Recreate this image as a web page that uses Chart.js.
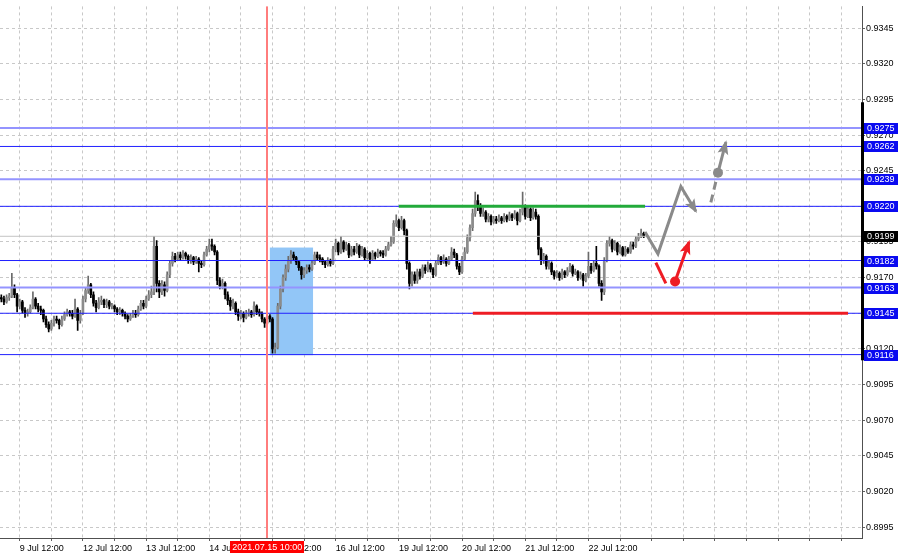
<!DOCTYPE html>
<html>
<head>
<meta charset="utf-8">
<script src="https://cdn.jsdelivr.net/npm/chart.js@4.4.0/dist/chart.umd.min.js"></script>
<style>
    html, body { margin: 0; padding: 0; background: #fff; }
    #wrap { width: 900px; height: 556px; }
</style>
</head>
<body>
<div id="wrap"><canvas id="chart" width="900" height="556"></canvas></div>
<script>
// ---- data (prices in pips, 0.0001 units) ----
const firstOpenPips = 9156;
const closePips = [
    9155,9153,9156,9157,9163,9158,9150,9153,9147,9145,
    9146,9149,9155,9150,9148,9147,9141,9137,9134,9138,
    9141,9140,9137,9141,9144,9146,9145,9143,9148,9140,
    9145,9155,9161,9165,9158,9152,9149,9153,9154,9151,
    9153,9150,9150,9148,9146,9147,9145,9143,9141,9143,
    9145,9144,9148,9152,9150,9155,9158,9160,9192,9166,
    9160,9165,9161,9172,9180,9185,9183,9186,9184,9187,
    9185,9182,9184,9181,9183,9180,9179,9186,9190,9193,
    9192,9188,9168,9164,9166,9158,9154,9150,9152,9146,
    9143,9145,9142,9145,9146,9144,9150,9146,9145,9141,
    9138,9143,9141,9120,9121,9150,9162,9170,9176,9182,
    9186,9184,9181,9177,9172,9175,9177,9176,9180,9186,
    9184,9183,9181,9179,9182,9180,9190,9194,9188,9195,
    9190,9193,9186,9190,9188,9192,9186,9190,9184,9187,
    9183,9187,9185,9188,9187,9186,9190,9193,9195,9208,
    9210,9205,9210,9203,9180,9166,9172,9168,9174,9171,
    9177,9175,9179,9176,9172,9180,9184,9181,9183,9180,
    9183,9188,9186,9178,9174,9183,9188,9198,9205,9215,
    9224,9220,9215,9216,9211,9213,9209,9211,9210,9212,
    9210,9213,9211,9214,9212,9215,9210,9216,9220,9213,
    9218,9212,9216,9213,9190,9182,9185,9178,9180,9174,
    9171,9173,9170,9174,9172,9175,9178,9173,9174,9170,
    9172,9168,9171,9178,9175,9180,9178,9166,9160,9182,
    9194,9196,9190,9194,9188,9191,9186,9190,9188,9193,
    9192,9197,9199,9201,9199
];
const highPips = [
    9158,9157,9158,9159,9173,9165,9159,9155,9154,9149,
    9148,9151,9160,9156,9152,9150,9148,9143,9139,9140,
    9143,9143,9141,9143,9146,9148,9147,9147,9155,9149,
    9147,9157,9163,9171,9166,9160,9154,9156,9157,9155,
    9155,9154,9152,9151,9149,9149,9148,9146,9144,9145,
    9147,9147,9150,9154,9154,9157,9161,9164,9199,9196,
    9168,9168,9167,9174,9182,9188,9187,9188,9188,9189,
    9188,9186,9186,9185,9185,9184,9182,9188,9192,9197,
    9197,9193,9189,9170,9169,9167,9160,9156,9155,9153,
    9148,9147,9146,9147,9148,9147,9153,9151,9148,9146,
    9142,9145,9144,9142,9124,9152,9164,9172,9179,9185,
    9189,9188,9185,9182,9178,9177,9179,9179,9182,9188,
    9188,9186,9184,9182,9184,9183,9192,9197,9195,9199,
    9196,9195,9194,9192,9192,9194,9193,9192,9191,9189,
    9188,9189,9188,9190,9189,9189,9192,9195,9199,9210,
    9214,9211,9213,9211,9204,9181,9174,9174,9176,9176,
    9179,9179,9181,9180,9177,9182,9186,9185,9186,9184,
    9185,9191,9190,9187,9180,9185,9191,9200,9207,9218,
    9230,9228,9222,9219,9217,9215,9214,9213,9213,9214,
    9213,9215,9214,9216,9215,9217,9216,9218,9230,9221,
    9220,9219,9219,9218,9214,9191,9187,9186,9182,9181,
    9175,9175,9174,9176,9175,9177,9180,9179,9176,9175,
    9174,9173,9173,9188,9180,9182,9192,9179,9168,9184,
    9196,9199,9197,9196,9195,9193,9192,9192,9191,9195,
    9195,9199,9201,9204,9202
];
const lowPips = [
    9153,9151,9152,9154,9156,9156,9146,9148,9145,9142,
    9143,9145,9148,9148,9146,9144,9139,9135,9132,9133,
    9136,9138,9134,9136,9140,9143,9143,9141,9142,9133,
    9138,9144,9153,9159,9156,9150,9146,9148,9151,9149,
    9149,9148,9148,9146,9144,9144,9143,9141,9139,9140,
    9142,9142,9143,9147,9148,9149,9154,9156,9158,9160,
    9156,9158,9157,9160,9170,9178,9181,9182,9182,9183,
    9183,9180,9180,9179,9180,9174,9177,9178,9185,9188,
    9189,9186,9165,9162,9162,9155,9151,9147,9148,9144,
    9140,9141,9139,9141,9143,9142,9143,9144,9143,9139,
    9135,9137,9139,9117,9117,9120,9148,9160,9168,9174,
    9180,9182,9179,9175,9169,9170,9173,9174,9175,9179,
    9182,9181,9179,9177,9178,9178,9179,9188,9186,9187,
    9188,9189,9184,9185,9186,9187,9184,9185,9182,9183,
    9180,9182,9183,9184,9185,9184,9185,9189,9192,9194,
    9206,9203,9204,9200,9176,9162,9164,9166,9166,9169,
    9170,9173,9174,9174,9170,9171,9179,9179,9180,9178,
    9179,9182,9184,9176,9172,9173,9182,9187,9196,9203,
    9213,9217,9213,9213,9209,9209,9207,9208,9208,9209,
    9208,9209,9209,9210,9210,9211,9207,9209,9214,9211,
    9212,9210,9211,9211,9186,9179,9180,9176,9176,9172,
    9169,9170,9168,9169,9170,9171,9174,9171,9172,9168,
    9169,9164,9167,9170,9173,9174,9176,9164,9154,9158,
    9181,9192,9188,9189,9186,9187,9185,9185,9187,9187,
    9190,9191,9196,9198,9198
];

// time axis (one bar per hour, bar 7 = 9 Jul 12:00)
const dayLabels = ['9 Jul 12:00','12 Jul 12:00','13 Jul 12:00','14 Jul 12:00','15 Jul 12:00',
                   '16 Jul 12:00','19 Jul 12:00','20 Jul 12:00','21 Jul 12:00','22 Jul 12:00'];
const dayLabelBars = [7, 31, 55, 79, 103, 127, 151, 175, 199, 223];
const markerBar = 101;
const markerText = '2021.07.15 10:00';

// price axis
const priceTicks = [0.8995,0.9020,0.9045,0.9070,0.9095,0.9120,0.9145,0.9170,0.9195,0.9220,0.9245,0.9270,0.9295,0.9320,0.9345];
const levelPrices = [0.9275, 0.9262, 0.9239, 0.9220, 0.9182, 0.9163, 0.9145, 0.9116];
const bidPrice = 0.9199;

// drawn objects
const zoneBars = [102, 118.4];
const zonePrices = [0.91911, 0.91156];
const greenBars = [151, 244.5];
const greenPrice = 0.9220;
const redBars = [179.1, 321.6];
const redPrice = 0.9145;
const grayPathBars = [244.5, 249.4, 258.1, 263.8];
const grayPathPrices = [0.9202, 0.91867, 0.92339, 0.92165];
const grayDashBars = [269.5, 271.4];
const grayDashPrices = [0.92228, 0.92373];
const grayUpBars = [272.2, 275.2];
const grayUpPrices = [0.92436, 0.9265];
const redDownBars = [248.6, 252.4];
const redDownPrices = [0.91805, 0.91659];
const redUpBars = [255.9, 261.2];
const redUpPrices = [0.91673, 0.9195];
const axisRangePrices = [0.9293, 0.9112];

// ---- build ----
const X_MIN = -0.5, X_MAX = 326.9;
const Y_MIN = 0.898736, Y_MAX = 0.936025;
const FONT = "'Liberation Sans', Arial, sans-serif";

const p = v => v / 10000;
const opens = closePips.map((c, i) => i === 0 ? firstOpenPips : closePips[i - 1]);
const bull = closePips.map((c, i) => c >= opens[i]);

const wickData = closePips.map((c, i) => ({x: i, y: [p(lowPips[i]), p(highPips[i])]}));
const bodyData = closePips.map((c, i) => ({x: i, y: [p(opens[i]), p(c)]}));

const gridBars = [];
for (let b = 7; b <= X_MAX; b += 12) gridBars.push(b);

function pts(xs, ys) { return xs.map((x, i) => ({x, y: ys[i]})); }

const lightLevels = [0, 2, 5];
const levelSets = levelPrices.map((lv, i) => ({
    type: 'line',
    data: [{x: X_MIN, y: lv}, {x: X_MAX, y: lv}],
    borderColor: lightLevels.includes(i) ? '#9494ff' : '#2020ff',
    borderWidth: lightLevels.includes(i) ? 2 : 1,
    pointRadius: 0,
    order: 3
}));

const GRAY = '#8a8a8a', RED = '#ee1c24';

const datasets = [
    {type: 'line', data: pts(grayPathBars, grayPathPrices), borderColor: GRAY, borderWidth: 3, pointRadius: 0, arrowHead: true, order: 0},
    {type: 'line', data: pts(grayDashBars, grayDashPrices), borderColor: GRAY, borderWidth: 3, borderDash: [8, 5], pointRadius: 0, order: 0},
    {type: 'line', data: pts(grayUpBars, grayUpPrices), borderColor: GRAY, borderWidth: 3, pointRadius: [5, 0], pointBackgroundColor: GRAY, pointBorderWidth: 0, arrowHead: true, order: 0},
    {type: 'line', data: pts(redDownBars, redDownPrices), borderColor: RED, borderWidth: 3, pointRadius: 0, order: 0},
    {type: 'line', data: pts(redUpBars, redUpPrices), borderColor: RED, borderWidth: 3, pointRadius: [5, 0], pointBackgroundColor: RED, pointBorderWidth: 0, arrowHead: true, order: 0},
    {type: 'line', data: pts(greenBars, [greenPrice, greenPrice]), borderColor: '#22aa3a', borderWidth: 3, pointRadius: 0, order: 1},
    {type: 'line', data: pts(redBars, [redPrice, redPrice]), borderColor: RED, borderWidth: 3, pointRadius: 0, order: 1},
    ...levelSets,
    {type: 'line', data: [{x: X_MIN, y: bidPrice}, {x: X_MAX, y: bidPrice}], borderColor: '#c4c4c4', borderWidth: 1, pointRadius: 0, order: 4},
    {type: 'bar', data: bodyData, grouped: false, barThickness: 2, minBarLength: 1,
        backgroundColor: bull.map(b => b ? '#8c8c8c' : '#000000'), order: 8},
    {type: 'bar', data: wickData, grouped: false, barThickness: 1,
        backgroundColor: bull.map(b => b ? '#6a6a6a' : '#000000'), order: 9}
];

// zone, marker, arrow heads, axis labels
const overlay = {
    id: 'overlay',
    beforeDatasetsDraw(chart) {
        const {ctx, scales: {x, y}} = chart;
        ctx.save();
        const x1 = x.getPixelForValue(zoneBars[0]), x2 = x.getPixelForValue(zoneBars[1]);
        const y1 = y.getPixelForValue(zonePrices[0]), y2 = y.getPixelForValue(zonePrices[1]);
        ctx.fillStyle = '#92c6f7';
        ctx.fillRect(x1, y1, x2 - x1, y2 - y1);
        ctx.restore();
    },
    afterDatasetsDraw(chart) {
        const {ctx, chartArea: ca, scales: {x}} = chart;
        // time marker line
        ctx.save();
        const mx = Math.round(x.getPixelForValue(markerBar));
        ctx.fillStyle = 'rgb(255,125,125)';
        ctx.fillRect(mx - 1, ca.top, 2, ca.bottom - ca.top);
        ctx.restore();
        chart.data.datasets.forEach((ds, i) => {
            if (!ds.arrowHead) return;
            const pts = chart.getDatasetMeta(i).data;
            const a = pts[pts.length - 2], b = pts[pts.length - 1];
            const ang = Math.atan2(b.y - a.y, b.x - a.x);
            const len = 12, half = 5.5;
            ctx.save();
            ctx.translate(b.x, b.y);
            ctx.rotate(ang);
            ctx.fillStyle = ds.borderColor;
            ctx.beginPath();
            ctx.moveTo(2, 0);
            ctx.lineTo(-len, -half);
            ctx.lineTo(-len + 3, 0);
            ctx.lineTo(-len, half);
            ctx.closePath();
            ctx.fill();
            ctx.restore();
        });
    },
    afterDraw(chart) {
        const {ctx, chartArea: a, scales: {x, y}} = chart;
        ctx.save();
        ctx.font = '9px ' + FONT;
        ctx.textBaseline = 'middle';
        // range mark on price axis
        ctx.fillStyle = '#000';
        const r1 = y.getPixelForValue(axisRangePrices[0]), r2 = y.getPixelForValue(axisRangePrices[1]);
        ctx.fillRect(a.right - 1, r1, 3, r2 - r1);
        // level labels
        const tag = (val, bg) => {
            const py = Math.round(y.getPixelForValue(val));
            ctx.fillStyle = bg;
            ctx.fillRect(a.right + 2, py - 5, 34, 11);
            ctx.fillStyle = '#fff';
            ctx.textAlign = 'left';
            ctx.fillText(val.toFixed(4), a.right + 5, py + 0.5);
        };
        levelPrices.forEach(lv => tag(lv, '#0a0af0'));
        tag(bidPrice, '#000');
        // time marker label
        const mx = x.getPixelForValue(markerBar);
        const w = ctx.measureText(markerText).width + 4;
        ctx.fillStyle = '#ff0000';
        ctx.fillRect(Math.round(mx - w / 2), a.bottom + 3, Math.round(w), 12);
        ctx.fillStyle = '#fff';
        ctx.textAlign = 'center';
        ctx.fillText(markerText, mx, a.bottom + 9.5);
        ctx.restore();
    }
};

Chart.defaults.font.family = FONT;
Chart.defaults.font.size = 9;
Chart.defaults.color = '#000';

new Chart(document.getElementById('chart'), {
    type: 'bar',
    data: {datasets},
    plugins: [overlay],
    options: {
        responsive: false,
        devicePixelRatio: 1,
        animation: false,
        layout: {padding: 0, autoPadding: false},
        plugins: {legend: {display: false}, tooltip: {enabled: false}},
        scales: {
            x: {
                type: 'linear',
                min: X_MIN,
                max: X_MAX,
                offset: false,
                afterBuildTicks: s => { s.ticks = gridBars.map(v => ({value: v})); },
                afterFit: s => { s.height = 18; },
                ticks: {
                    autoSkip: false, maxRotation: 0, minRotation: 0, align: 'start', padding: 2,
                    callback: v => { const k = dayLabelBars.indexOf(v); return k >= 0 ? dayLabels[k] : ''; }
                },
                grid: {color: '#c8c8c8', offset: false, tickLength: 3, tickColor: '#606060'},
                border: {color: '#505050', dash: [3, 3]}
            },
            y: {
                type: 'linear',
                position: 'right',
                min: Y_MIN,
                max: Y_MAX,
                afterBuildTicks: s => { s.ticks = priceTicks.map(v => ({value: v})); },
                afterFit: s => { s.width = 38; },
                ticks: {padding: 1, callback: v => v.toFixed(4)},
                grid: {color: '#c8c8c8', tickLength: 3, tickColor: '#606060'},
                border: {color: '#505050', dash: [3, 3]}
            }
        }
    }
});
</script>
</body>
</html>
